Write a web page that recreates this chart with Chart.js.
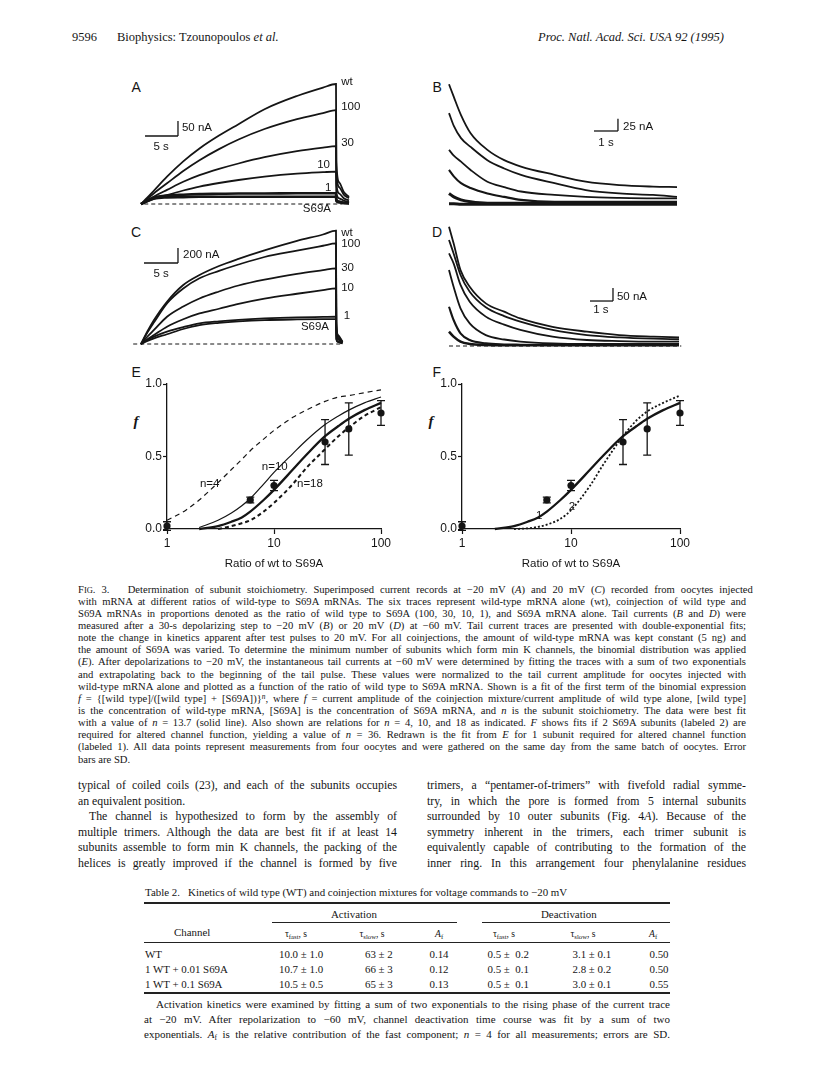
<!DOCTYPE html>
<html><head><meta charset="utf-8">
<script src="https://cdn.jsdelivr.net/npm/chart.js@4.4.1/dist/chart.umd.min.js"></script>
<style>
html,body{margin:0;padding:0;background:#fff;}
#page{position:relative;width:816px;height:1068px;overflow:hidden;background:#fff;font-family:"Liberation Serif","Times New Roman",serif;color:#151515;}
.t{position:absolute;white-space:nowrap;}
.sans{font-family:"Liberation Sans",Arial,sans-serif;}
canvas{position:absolute;}
sub{font-size:0.7em;vertical-align:-0.25em;line-height:0;}
sup{font-size:0.7em;vertical-align:0.45em;line-height:0;}
.rule{position:absolute;background:#222;}
</style></head><body><div id="page"></div>
<script>
// ---------------- DATA ----------------
// Panel A: currents at -20 mV (time s, current nA)
const timeA = [0,1,2,4,6.5,9,12,15,19,24,28,30,30.05,30.5,31.2,32];
const A_wt   = [0,22,45,91,142,185,228,266,316,360,388,400,140,72,40,24];
const A_100  = [0,18,36,69,110,146,183,215,250,283,303,313,110,56,31,19];
const A_30   = [0,13,25,47,74,96,117,135,156,176,188,193,68,35,19,12];
const A_10   = [0,9,17,30,45,58,70,80,91,101,106,108,38,19,11,6];
const A_1    = [0,12,22,28,31,33,34,35,35,36,36,36,15,8,4,2];
const A_S69A = [0,10,18,22,23,24,24,24,24,24,24,24,10,5,3,2];
// Panel C: currents at +20 mV
const timeC = [0,1,2,4,6.5,9,12,15,19,24,28,30,30.05,30.3,31];
const C_wt   = [0,170,320,564,787,920,1040,1135,1248,1375,1460,1511,300,120,30];
const C_100  = [0,155,289,542,740,876,975,1060,1160,1245,1310,1342,270,105,27];
const C_30   = [0,100,187,364,500,607,700,780,858,935,985,1009,200,80,20];
const C_10   = [0,65,120,231,330,407,470,535,605,670,718,742,150,60,15];
const C_1    = [0,55,98,164,225,275,303,323,341,355,361,364,75,30,8];
const C_S69A = [0,42,76,130,200,252,282,302,319,328,332,333,65,27,7];
// Panel B: tail currents after -20 mV
const timeB = [0,0.2,0.5,0.9,1.6,2.3,3.0,4.4,5.7,7.1,8.5,9.5];
const B_1 = [250,224,187,150,116,95,82,65,51,44,41,40];
const B_2 = [191,165,140,122,95,78,65,48,34,27,24,20];
const B_3 = [116,104,92,75,51,40,31,24,20,18,17,17];
const B_4 = [75,62,48,38,27,20,14,10,10,10,10,10];
const B_5 = [27,20,14,10,7,7,7,7,7,7,7,7];
const B_6 = [6,6,5,5,5,5,5,5,5,5,5,5];
// Panel D: tail currents after +20 mV
const timeD = [0,0.2,0.5,0.9,1.6,2.4,3.1,4.5,6.0,7.4,8.9,10.0];
const D_1 = [459,395,292,228,164,132,106,74,55,42,36,33];
const D_2 = [408,356,273,209,149,115,94,62,42,33,28,26];
const D_3 = [356,318,235,170,113,82,62,36,23,19,17,17];
const D_4 = [292,228,145,87,42,25,17,10,8,8,8,8];
const D_5 = [151,100,49,23,10,6,5,4,4,4,4,4];
const D_6 = [55,36,17,8,4,3,3,3,3,3,3,3];
// Panels E, F: normalized tail current vs ratio wt:S69A
const ratio = [1,6,10,30,50,100];
const fMean = [0.02,0.20,0.30,0.60,0.69,0.80];
const fSD   = [0.03,0.02,0.035,0.155,0.18,0.085];
const rFit  = [1,1.5,2,3,4,5,6,8,10,15,20,30,40,50,70,100];
const fitN4    = [0.06,0.13,0.20,0.32,0.41,0.48,0.54,0.62,0.68,0.77,0.82,0.88,0.91,0.92,0.94,0.96];
const fitN10   = [null,null,0.01,0.06,0.11,0.16,0.21,0.31,0.39,0.52,0.61,0.72,0.78,0.82,0.87,0.91];
const fitN13_7 = [null,null,0.00,0.02,0.05,0.08,0.12,0.20,0.27,0.41,0.51,0.64,0.71,0.76,0.82,0.87];
const fitN18   = [null,null,null,0.00,0.02,0.04,0.06,0.12,0.18,0.31,0.42,0.55,0.64,0.70,0.78,0.84];
const fit2Sub  = [null,null,null,0.00,0.005,0.015,0.03,0.07,0.13,0.30,0.45,0.64,0.75,0.81,0.87,0.92];
const ratioTicks = [1,10,100];
const fTicks = [0,0.5,1];

// ---------------- HELPERS ----------------
const page = document.getElementById('page');
const INK = '#151515';
const SANS = '"Liberation Sans", Arial, sans-serif';
function pts(xs, ys){ const o=[]; xs.forEach((x,i)=>{ if(ys[i]!==null && ys[i]!==undefined) o.push({x, y:ys[i]}); }); return o; }
function addText(html, x, y, size, opts={}){
  const d=document.createElement('div'); d.className='t'+(opts.sans?' sans':'');
  d.innerHTML=html; d.style.fontSize=size+'px'; d.style.lineHeight=size*1.2+'px';
  if(opts.italic) d.style.fontStyle='italic';
  if(opts.bold) d.style.fontWeight='bold';
  page.appendChild(d);
  const w=d.offsetWidth, h=d.offsetHeight;
  let lx = x; if(opts.align==='center') lx = x-w/2; else if(opts.align==='right') lx = x-w;
  d.style.left=lx+'px'; d.style.top=(y-h/2)+'px';
  return d;
}
function addLine(html, left, width, yc, size, justify){
  const d=document.createElement('div'); d.className='t';
  d.style.left=left+'px'; d.style.fontSize=size+'px'; d.style.lineHeight=(size*1.2)+'px';
  const s=document.createElement('span'); s.innerHTML=html; s.style.display='inline-block'; s.style.transformOrigin='left center';
  d.appendChild(s); page.appendChild(d);
  const nat=s.getBoundingClientRect().width;
  if(nat>width){ s.style.transform='scaleX('+(width/nat)+')'; }
  else if(justify){ const n=(s.textContent.match(/ /g)||[]).length; if(n>0) s.style.wordSpacing=((width-nat)/n)+'px'; }
  d.style.top=(yc-d.offsetHeight/2)+'px';
}
function rule(x,y,w,h){ const r=document.createElement('div'); r.className='rule'; r.style.left=x+'px'; r.style.top=y+'px'; r.style.width=w+'px'; r.style.height=h+'px'; page.appendChild(r); }
function makeCanvas(l,t,w,h){ const c=document.createElement('canvas'); c.width=w; c.height=h; c.style.left=l+'px'; c.style.top=t+'px'; c.style.width=w+'px'; c.style.height=h+'px'; page.appendChild(c); return c; }

const txtPlugin={ id:'txt', afterDraw(chart,args,opts){ if(!opts||!opts.items) return; const {ctx,scales:{x,y}}=chart; ctx.save(); ctx.fillStyle=INK; ctx.textBaseline='middle';
  for(const it of opts.items){ ctx.font=it.font||('11.5px '+SANS); ctx.textAlign=it.align||'left'; ctx.fillText(it.text, x.getPixelForValue(it.x), y.getPixelForValue(it.y)); } ctx.restore(); } };
const errPlugin={ id:'err', afterDatasetsDraw(chart,args,opts){ if(!opts||!opts.sd) return; const meta=chart.getDatasetMeta(opts.index); const ds=chart.data.datasets[opts.index].data; const {ctx,scales:{y}}=chart;
  ctx.save(); ctx.strokeStyle=INK; ctx.lineWidth=1.3; meta.data.forEach((p,i)=>{ const v=ds[i].y, s=opts.sd[i]; const a=y.getPixelForValue(v+s), b=y.getPixelForValue(v-s);
  ctx.beginPath(); ctx.moveTo(p.x,a); ctx.lineTo(p.x,b); ctx.moveTo(p.x-4,a); ctx.lineTo(p.x+4,a); ctx.moveTo(p.x-4,b); ctx.lineTo(p.x+4,b); ctx.stroke(); }); ctx.restore(); } };
Chart.register(txtPlugin, errPlugin);

function line(data, w, dash){ return {data, showLine:true, borderColor:INK, borderWidth:w, borderDash:dash||[], pointRadius:0, cubicInterpolationMode:'monotone', clip:false}; }

function tracePanel(f, datasets, items){
  const c=makeCanvas(f.left,f.top,f.w,f.h);
  new Chart(c,{type:'scatter', data:{datasets},
    options:{responsive:false, animation:false, devicePixelRatio:1, events:[],
      layout:{padding:0},
      plugins:{legend:{display:false}, tooltip:{enabled:false}, txt:{items}},
      scales:{ x:{type:'linear', display:false, min:(f.left-f.x0)/f.sx, max:(f.left+f.w-f.x0)/f.sx},
               y:{type:'linear', display:false, min:(f.y0-(f.top+f.h))/f.sy, max:(f.y0-f.top)/f.sy} } } });
}
function scaleBar(x1,x2,y1,y2){ return [line([{x:x1,y:y1},{x:x2,y:y1}],1.3), line([{x:x2,y:y1},{x:x2,y:y2}],1.3)]; }

// ---------------- HEADER ----------------
addText('9596', 72, 37, 12.5);
addText('Biophysics: Tzounopoulos <i>et al.</i>', 117, 37, 12.5);
addText('<i>Proc. Natl. Acad. Sci. USA 92 (1995)</i>', 724, 37, 12.5, {align:'right'});

// ---------------- PANEL LETTERS ----------------
[['A',136,87],['B',437,87],['C',136,232],['D',437,232],['E',136,372],['F',437,372]].forEach(p=>addText(p[0],p[1],p[2],14,{sans:true,align:'center'}));
addText('f',136,421,15,{italic:true,bold:true,align:'center'});
addText('f',431,421,15,{italic:true,bold:true,align:'center'});

// Panel A
tracePanel({left:120,top:70,w:250,h:150,x0:141,y0:204,sx:6.5,sy:0.3},[
  line(pts(timeA,A_wt),1.8), line(pts(timeA,A_100),1.8), line(pts(timeA,A_30),1.8),
  line(pts(timeA,A_10),1.8), line(pts(timeA,A_1),2.6), line(pts(timeA,A_S69A),2.6),
  line([{x:0.5,y:0},{x:31,y:0}],1,[4,3]),
  ...scaleBar(0.62,5.69,226.7,276.7)
],[
  {text:'wt',x:30.8,y:407},{text:'100',x:30.8,y:323},{text:'30',x:30.8,y:203},
  {text:'10',x:27.1,y:130},{text:'1',x:28.3,y:53},{text:'S69A',x:24.9,y:-17},
  {text:'50 nA',x:6.3,y:253},{text:'5 s',x:3.1,y:190,align:'center'}
]);
// Panel C
tracePanel({left:120,top:222,w:250,h:130,x0:141,y0:344,sx:6.5,sy:0.075},[
  line(pts(timeC,C_wt),1.8), line(pts(timeC,C_100),1.8), line(pts(timeC,C_30),1.8),
  line(pts(timeC,C_10),1.8), line(pts(timeC,C_1),1.8), line(pts(timeC,C_S69A),1.8),
  line([{x:-1.2,y:0},{x:31,y:0}],1,[4,3]),
  ...scaleBar(0.46,5.69,1080,1280)
],[
  {text:'wt',x:30.8,y:1480},{text:'100',x:30.8,y:1333},{text:'30',x:30.8,y:1013},
  {text:'10',x:30.8,y:747},{text:'1',x:31.2,y:373},{text:'S69A',x:24.6,y:235},
  {text:'200 nA',x:6.46,y:1187},{text:'5 s',x:3.1,y:933,align:'center'}
]);
// Panel B
tracePanel({left:430,top:72,w:262,h:145,x0:449,y0:206.7,sx:24,sy:0.49},[
  line(pts(timeB,B_1),1.8), line(pts(timeB,B_2),1.8), line(pts(timeB,B_3),1.8),
  line(pts(timeB,B_4),2.1), line(pts(timeB,B_5),3.0), line(pts(timeB,B_6),3.0),
  ...scaleBar(6.04,7.04,154.5,179.5)
],[
  {text:'25 nA',x:7.25,y:163},{text:'1 s',x:6.54,y:130,align:'center'}
]);
// Panel D
tracePanel({left:430,top:222,w:265,h:132,x0:449,y0:346,sx:23,sy:0.26},[
  line(pts(timeD,D_1),1.8), line(pts(timeD,D_2),1.8), line(pts(timeD,D_3),1.8),
  line(pts(timeD,D_4),1.8), line(pts(timeD,D_5),2.1), line(pts(timeD,D_6),2.6),
  line([{x:0,y:0},{x:10.1,y:0}],1,[4,3]),
  ...scaleBar(6.13,7.13,173,223)
],[
  {text:'50 nA',x:7.3,y:188},{text:'1 s',x:6.6,y:138,align:'center'}
]);

// Panels E & F
function fitPanel(left, w, curves, items){
  const c=makeCanvas(left,374,w,201);
  const g={drawOnChartArea:false, drawTicks:true, color:INK, tickColor:INK, tickWidth:1.2};
  const b={display:true, color:INK, width:1.3};
  new Chart(c,{type:'scatter', data:{datasets:[...curves,
      {data:pts(ratio,fMean), showLine:false, pointRadius:3.6, pointBackgroundColor:INK, pointBorderColor:INK, pointBorderWidth:0, clip:false}]},
    options:{responsive:false, animation:false, devicePixelRatio:1, events:[],
      layout:{padding:{left:0,top:10,right:19,bottom:0}},
      plugins:{legend:{display:false}, tooltip:{enabled:false}, err:{index:curves.length, sd:fSD}, txt:{items}},
      scales:{
        x:{type:'logarithmic', min:1, max:100,
           afterBuildTicks:s=>{ s.ticks=ratioTicks.map(v=>({value:v, major:true})); },
           ticks:{callback:v=>String(v), autoSkip:false, maxRotation:0, padding:2, color:INK, font:{family:SANS,size:12}},
           grid:{...g, tickLength:5}, border:b,
           title:{display:true, text:'Ratio of wt to S69A', color:INK, font:{family:SANS,size:11.5}, padding:{top:2,bottom:4}},
           afterFit:s=>{ s.height=46; } },
        y:{type:'linear', min:0, max:1,
           afterBuildTicks:s=>{ s.ticks=fTicks.map(v=>({value:v})); },
           ticks:{callback:v=>Number(v).toFixed(1), padding:1, color:INK, font:{family:SANS,size:12}},
           grid:{...g, tickLength:4}, border:b,
           afterFit:s=>{ s.width=47; } } } } });
}
fitPanel(120,280,[
  line(pts(rFit,fitN4),1.2,[5,4]), line(pts(rFit,fitN10),1.2), line(pts(rFit,fitN13_7),2.3), line(pts(rFit,fitN18),2.0,[4,3])
],[
  {text:'n=4',x:2.03,y:0.31},{text:'n=10',x:7.7,y:0.43},{text:'n=18',x:16.4,y:0.31}
]);
fitPanel(415,284,[
  line(pts(rFit,fitN13_7),2.3), line(pts(rFit,fit2Sub),1.8,[2,2])
],[
  {text:'1',x:5.1,y:0.09,align:'center'},{text:'2',x:10.2,y:0.15,align:'center'}
]);

// ---------------- CAPTION ----------------
const captionLines = [
 'F<span style="font-size:0.8em">IG</span>. 3.&nbsp;&nbsp; Determination of subunit stoichiometry. Superimposed current records at −20 mV (<i>A</i>) and 20 mV (<i>C</i>) recorded from oocytes injected',
 'with mRNA at different ratios of wild-type to S69A mRNAs. The six traces represent wild-type mRNA alone (wt), coinjection of wild type and',
 'S69A mRNAs in proportions denoted as the ratio of wild type to S69A (100, 30, 10, 1), and S69A mRNA alone. Tail currents (<i>B</i> and <i>D</i>) were',
 'measured after a 30-s depolarizing step to −20 mV (<i>B</i>) or 20 mV (<i>D</i>) at −60 mV. Tail current traces are presented with double-exponential fits;',
 'note the change in kinetics apparent after test pulses to 20 mV. For all coinjections, the amount of wild-type mRNA was kept constant (5 ng) and',
 'the amount of S69A was varied. To determine the minimum number of subunits which form min K channels, the binomial distribution was applied',
 '(<i>E</i>). After depolarizations to −20 mV, the instantaneous tail currents at −60 mV were determined by fitting the traces with a sum of two exponentials',
 'and extrapolating back to the beginning of the tail pulse. These values were normalized to the tail current amplitude for oocytes injected with',
 'wild-type mRNA alone and plotted as a function of the ratio of wild type to S69A mRNA. Shown is a fit of the first term of the binomial expression',
 '<i>f</i> = {[wild type]/([wild type] + [S69A])}<sup><i>n</i></sup>, where <i>f</i> = current amplitude of the coinjection mixture/current amplitude of wild type alone, [wild type]',
 'is the concentration of wild-type mRNA, [S69A] is the concentration of S69A mRNA, and <i>n</i> is the subunit stoichiometry. The data were best fit',
 'with a value of <i>n</i> = 13.7 (solid line). Also shown are relations for <i>n</i> = 4, 10, and 18 as indicated. <i>F</i> shows fits if 2 S69A subunits (labeled 2) are',
 'required for altered channel function, yielding a value of <i>n</i> = 36. Redrawn is the fit from <i>E</i> for 1 subunit required for altered channel function',
 '(labeled 1). All data points represent measurements from four oocytes and were gathered on the same day from the same batch of oocytes. Error',
 'bars are SD.'
];
captionLines.forEach((h,i)=>addLine(h,78,668,590+12.15*i,10.6,i<captionLines.length-1));

// ---------------- BODY ----------------
const bodyLeft = [
 ['typical of coiled coils (23), and each of the subunits occupies',true,0],
 ['an equivalent position.',false,0],
 ['The channel is hypothesized to form by the assembly of',true,11],
 ['multiple trimers. Although the data are best fit if at least 14',true,0],
 ['subunits assemble to form min K channels, the packing of the',true,0],
 ['helices is greatly improved if the channel is formed by five',true,0]
];
const bodyRight = [
 ['trimers, a “pentamer-of-trimers” with fivefold radial symme-',true,0],
 ['try, in which the pore is formed from 5 internal subunits',true,0],
 ['surrounded by 10 outer subunits (Fig. 4<i>A</i>). Because of the',true,0],
 ['symmetry inherent in the trimers, each trimer subunit is',true,0],
 ['equivalently capable of contributing to the formation of the',true,0],
 ['inner ring. In this arrangement four phenylalanine residues',true,0]
];
bodyLeft.forEach((l,i)=>addLine(l[0],78+l[2],319-l[2],785+15.5*i,11.8,l[1]));
bodyRight.forEach((l,i)=>addLine(l[0],427+l[2],319-l[2],785+15.5*i,11.8,l[1]));

// ---------------- TABLE ----------------
const TL=144, TW=526;
addText('Table 2.&nbsp;&nbsp; Kinetics of wild type (WT) and coinjection mixtures for voltage commands to −20 mV', TL+1, 892, 10.9);
rule(TL,902,TW,1.6);
addText('Activation',354,914,10.9,{align:'center'});
addText('Deactivation',569,914,10.9,{align:'center'});
rule(272,922,185,1); rule(482,922,188,1);
addText('Channel',192,932,10.9,{align:'center'});
const sub1='τ<sub>fast</sub>, s', sub2='τ<sub>slow</sub>, s', sub3='<i>A</i><sub>f</sub>';
[[sub1,296],[sub2,372],[sub3,439],[sub1,504],[sub2,583],[sub3,653]].forEach(s=>addText(s[0],s[1],934,9.6,{align:'center'}));
rule(TL,942,TW,1);
const tableChannels = ['WT','1 WT + 0.01 S69A','1 WT + 0.1 S69A'];
const tableRows = [
 ['10.0 ± 1.0','63 ± 2','0.14','0.5 ± &nbsp;0.2','3.1 ± 0.1','0.50'],
 ['10.7 ± 1.0','66 ± 3','0.12','0.5 ± &nbsp;0.1','2.8 ± 0.2','0.50'],
 ['10.5 ± 0.5','65 ± 3','0.13','0.5 ± &nbsp;0.1','3.0 ± 0.1','0.55']
];
const colX=[301,379,439,508,592,659];
tableChannels.forEach((c,i)=>{ const y=954+15*i; addText(c,TL+1,y,10.9); tableRows[i].forEach((v,j)=>addText(v,colX[j],y,10.9,{align:'center'})); });
rule(TL,992,TW,1.6);
const foot=[
 ['Activation kinetics were examined by fitting a sum of two exponentials to the rising phase of the current trace',true,12],
 ['at −20 mV. After repolarization to −60 mV, channel deactivation time course was fit by a sum of two',true,0],
 ['exponentials. <i>A</i><sub>f</sub> is the relative contribution of the fast component; <i>n</i> = 4 for all measurements; errors are SD.',true,0]
];
foot.forEach((l,i)=>addLine(l[0],TL+l[2],TW-l[2],1004+15.2*i,11,l[1]));
</script></body></html>
